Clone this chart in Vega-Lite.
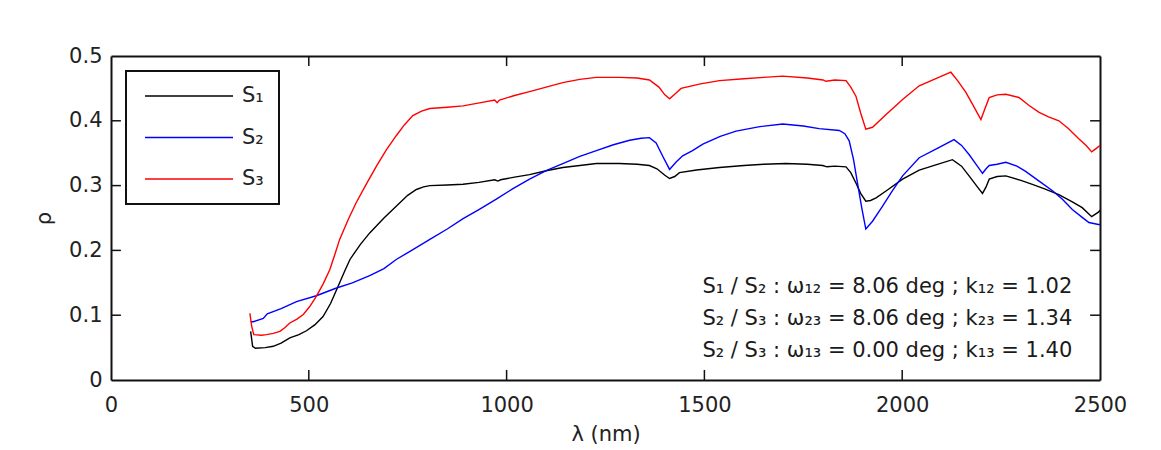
{
  "$schema": "https://vega.github.io/schema/vega-lite/v6.json",
  "width": 989,
  "height": 324,
  "autosize": {"type": "none"},
  "padding": {"left": 111, "top": 56, "right": 61, "bottom": 70},
  "background": "white",
  "config": {
    "font": "DejaVu Sans",
    "view": {"stroke": null},
    "axis": {
      "labelFont": "DejaVu Sans", "labelFontSize": 21, "labelColor": "#222",
      "labelFlush": false, "labelOverlap": false,
      "titleFont": "DejaVu Sans", "titleFontSize": 21, "titleFontWeight": "normal", "titleColor": "#222",
      "domainColor": "#111", "domainWidth": 2,
      "ticks": false,
      "grid": false
    },
    "legend": {
      "labelFont": "DejaVu Sans", "labelFontSize": 21, "labelColor": "#222",
      "symbolType": "stroke", "symbolSize": 7744, "symbolStrokeWidth": 1.5,
      "clipHeight": 20, "rowPadding": 20.5, "labelOffset": 8, "symbolOffset": 3,
      "padding": 15, "strokeColor": "#111", "strokeWidth": 2, "fillColor": "white"
    }
  },
  "datasets": {
    "spectra": [
      {"lambda": 353, "rho": 0.075, "series": "S₁"}, {"lambda": 358, "rho": 0.052, "series": "S₁"}, {"lambda": 365, "rho": 0.049, "series": "S₁"}, {"lambda": 390, "rho": 0.050, "series": "S₁"}, {"lambda": 410, "rho": 0.052, "series": "S₁"}, {"lambda": 430, "rho": 0.057, "series": "S₁"}, {"lambda": 452, "rho": 0.065, "series": "S₁"}, {"lambda": 475, "rho": 0.070, "series": "S₁"}, {"lambda": 494, "rho": 0.076, "series": "S₁"}, {"lambda": 515, "rho": 0.085, "series": "S₁"}, {"lambda": 536, "rho": 0.098, "series": "S₁"}, {"lambda": 555, "rho": 0.118, "series": "S₁"}, {"lambda": 570, "rho": 0.139, "series": "S₁"}, {"lambda": 590, "rho": 0.167, "series": "S₁"}, {"lambda": 604, "rho": 0.186, "series": "S₁"}, {"lambda": 630, "rho": 0.209, "series": "S₁"}, {"lambda": 654, "rho": 0.227, "series": "S₁"}, {"lambda": 690, "rho": 0.250, "series": "S₁"}, {"lambda": 721, "rho": 0.268, "series": "S₁"}, {"lambda": 750, "rho": 0.285, "series": "S₁"}, {"lambda": 772, "rho": 0.294, "series": "S₁"}, {"lambda": 790, "rho": 0.298, "series": "S₁"}, {"lambda": 806, "rho": 0.300, "series": "S₁"}, {"lambda": 850, "rho": 0.301, "series": "S₁"}, {"lambda": 890, "rho": 0.302, "series": "S₁"}, {"lambda": 930, "rho": 0.305, "series": "S₁"}, {"lambda": 970, "rho": 0.309, "series": "S₁"}, {"lambda": 978, "rho": 0.307, "series": "S₁"}, {"lambda": 985, "rho": 0.309, "series": "S₁"}, {"lambda": 1020, "rho": 0.313, "series": "S₁"}, {"lambda": 1058, "rho": 0.317, "series": "S₁"}, {"lambda": 1100, "rho": 0.323, "series": "S₁"}, {"lambda": 1142, "rho": 0.328, "series": "S₁"}, {"lambda": 1185, "rho": 0.331, "series": "S₁"}, {"lambda": 1227, "rho": 0.334, "series": "S₁"}, {"lambda": 1285, "rho": 0.334, "series": "S₁"}, {"lambda": 1330, "rho": 0.333, "series": "S₁"}, {"lambda": 1361, "rho": 0.331, "series": "S₁"}, {"lambda": 1380, "rho": 0.326, "series": "S₁"}, {"lambda": 1400, "rho": 0.316, "series": "S₁"}, {"lambda": 1412, "rho": 0.311, "series": "S₁"}, {"lambda": 1425, "rho": 0.314, "series": "S₁"}, {"lambda": 1437, "rho": 0.320, "series": "S₁"}, {"lambda": 1480, "rho": 0.324, "series": "S₁"}, {"lambda": 1538, "rho": 0.328, "series": "S₁"}, {"lambda": 1600, "rho": 0.331, "series": "S₁"}, {"lambda": 1650, "rho": 0.333, "series": "S₁"}, {"lambda": 1706, "rho": 0.334, "series": "S₁"}, {"lambda": 1760, "rho": 0.333, "series": "S₁"}, {"lambda": 1799, "rho": 0.331, "series": "S₁"}, {"lambda": 1810, "rho": 0.329, "series": "S₁"}, {"lambda": 1830, "rho": 0.330, "series": "S₁"}, {"lambda": 1858, "rho": 0.329, "series": "S₁"}, {"lambda": 1870, "rho": 0.320, "series": "S₁"}, {"lambda": 1883, "rho": 0.304, "series": "S₁"}, {"lambda": 1895, "rho": 0.288, "series": "S₁"}, {"lambda": 1908, "rho": 0.276, "series": "S₁"}, {"lambda": 1920, "rho": 0.277, "series": "S₁"}, {"lambda": 1934, "rho": 0.281, "series": "S₁"}, {"lambda": 1960, "rho": 0.292, "series": "S₁"}, {"lambda": 2001, "rho": 0.310, "series": "S₁"}, {"lambda": 2043, "rho": 0.324, "series": "S₁"}, {"lambda": 2085, "rho": 0.332, "series": "S₁"}, {"lambda": 2127, "rho": 0.340, "series": "S₁"}, {"lambda": 2150, "rho": 0.330, "series": "S₁"}, {"lambda": 2169, "rho": 0.315, "series": "S₁"}, {"lambda": 2190, "rho": 0.298, "series": "S₁"}, {"lambda": 2203, "rho": 0.288, "series": "S₁"}, {"lambda": 2212, "rho": 0.298, "series": "S₁"}, {"lambda": 2220, "rho": 0.310, "series": "S₁"}, {"lambda": 2240, "rho": 0.314, "series": "S₁"}, {"lambda": 2262, "rho": 0.315, "series": "S₁"}, {"lambda": 2300, "rho": 0.308, "series": "S₁"}, {"lambda": 2329, "rho": 0.302, "series": "S₁"}, {"lambda": 2360, "rho": 0.295, "series": "S₁"}, {"lambda": 2396, "rho": 0.286, "series": "S₁"}, {"lambda": 2430, "rho": 0.275, "series": "S₁"}, {"lambda": 2455, "rho": 0.266, "series": "S₁"}, {"lambda": 2479, "rho": 0.252, "series": "S₁"}, {"lambda": 2496, "rho": 0.259, "series": "S₁"}, {"lambda": 2500, "rho": 0.262, "series": "S₁"},

      {"lambda": 353, "rho": 0.090, "series": "S₂"}, {"lambda": 360, "rho": 0.090, "series": "S₂"}, {"lambda": 385, "rho": 0.095, "series": "S₂"}, {"lambda": 395, "rho": 0.102, "series": "S₂"}, {"lambda": 430, "rho": 0.110, "series": "S₂"}, {"lambda": 469, "rho": 0.121, "series": "S₂"}, {"lambda": 519, "rho": 0.130, "series": "S₂"}, {"lambda": 570, "rho": 0.142, "series": "S₂"}, {"lambda": 610, "rho": 0.150, "series": "S₂"}, {"lambda": 654, "rho": 0.161, "series": "S₂"}, {"lambda": 690, "rho": 0.172, "series": "S₂"}, {"lambda": 721, "rho": 0.186, "series": "S₂"}, {"lambda": 760, "rho": 0.200, "series": "S₂"}, {"lambda": 806, "rho": 0.217, "series": "S₂"}, {"lambda": 850, "rho": 0.233, "series": "S₂"}, {"lambda": 890, "rho": 0.249, "series": "S₂"}, {"lambda": 930, "rho": 0.263, "series": "S₂"}, {"lambda": 974, "rho": 0.279, "series": "S₂"}, {"lambda": 1015, "rho": 0.295, "series": "S₂"}, {"lambda": 1058, "rho": 0.310, "series": "S₂"}, {"lambda": 1100, "rho": 0.323, "series": "S₂"}, {"lambda": 1142, "rho": 0.334, "series": "S₂"}, {"lambda": 1185, "rho": 0.345, "series": "S₂"}, {"lambda": 1227, "rho": 0.354, "series": "S₂"}, {"lambda": 1270, "rho": 0.363, "series": "S₂"}, {"lambda": 1311, "rho": 0.370, "series": "S₂"}, {"lambda": 1340, "rho": 0.373, "series": "S₂"}, {"lambda": 1361, "rho": 0.374, "series": "S₂"}, {"lambda": 1378, "rho": 0.366, "series": "S₂"}, {"lambda": 1395, "rho": 0.345, "series": "S₂"}, {"lambda": 1412, "rho": 0.325, "series": "S₂"}, {"lambda": 1428, "rho": 0.336, "series": "S₂"}, {"lambda": 1445, "rho": 0.346, "series": "S₂"}, {"lambda": 1470, "rho": 0.354, "series": "S₂"}, {"lambda": 1496, "rho": 0.364, "series": "S₂"}, {"lambda": 1540, "rho": 0.376, "series": "S₂"}, {"lambda": 1580, "rho": 0.384, "series": "S₂"}, {"lambda": 1640, "rho": 0.391, "series": "S₂"}, {"lambda": 1698, "rho": 0.395, "series": "S₂"}, {"lambda": 1750, "rho": 0.392, "series": "S₂"}, {"lambda": 1790, "rho": 0.388, "series": "S₂"}, {"lambda": 1841, "rho": 0.385, "series": "S₂"}, {"lambda": 1855, "rho": 0.380, "series": "S₂"}, {"lambda": 1866, "rho": 0.369, "series": "S₂"}, {"lambda": 1877, "rho": 0.340, "series": "S₂"}, {"lambda": 1887, "rho": 0.304, "series": "S₂"}, {"lambda": 1898, "rho": 0.265, "series": "S₂"}, {"lambda": 1908, "rho": 0.233, "series": "S₂"}, {"lambda": 1925, "rho": 0.245, "series": "S₂"}, {"lambda": 1950, "rho": 0.268, "series": "S₂"}, {"lambda": 1975, "rho": 0.292, "series": "S₂"}, {"lambda": 2001, "rho": 0.315, "series": "S₂"}, {"lambda": 2043, "rho": 0.343, "series": "S₂"}, {"lambda": 2090, "rho": 0.358, "series": "S₂"}, {"lambda": 2131, "rho": 0.371, "series": "S₂"}, {"lambda": 2150, "rho": 0.362, "series": "S₂"}, {"lambda": 2169, "rho": 0.348, "series": "S₂"}, {"lambda": 2190, "rho": 0.330, "series": "S₂"}, {"lambda": 2203, "rho": 0.319, "series": "S₂"}, {"lambda": 2212, "rho": 0.326, "series": "S₂"}, {"lambda": 2220, "rho": 0.331, "series": "S₂"}, {"lambda": 2240, "rho": 0.333, "series": "S₂"}, {"lambda": 2262, "rho": 0.336, "series": "S₂"}, {"lambda": 2290, "rho": 0.330, "series": "S₂"}, {"lambda": 2312, "rho": 0.322, "series": "S₂"}, {"lambda": 2346, "rho": 0.307, "series": "S₂"}, {"lambda": 2380, "rho": 0.292, "series": "S₂"}, {"lambda": 2405, "rho": 0.279, "series": "S₂"}, {"lambda": 2430, "rho": 0.263, "series": "S₂"}, {"lambda": 2455, "rho": 0.251, "series": "S₂"}, {"lambda": 2472, "rho": 0.243, "series": "S₂"}, {"lambda": 2496, "rho": 0.240, "series": "S₂"}, {"lambda": 2500, "rho": 0.240, "series": "S₂"},

      {"lambda": 351, "rho": 0.103, "series": "S₃"}, {"lambda": 356, "rho": 0.082, "series": "S₃"}, {"lambda": 361, "rho": 0.070, "series": "S₃"}, {"lambda": 380, "rho": 0.069, "series": "S₃"}, {"lambda": 393, "rho": 0.070, "series": "S₃"}, {"lambda": 410, "rho": 0.072, "series": "S₃"}, {"lambda": 427, "rho": 0.075, "series": "S₃"}, {"lambda": 440, "rho": 0.081, "series": "S₃"}, {"lambda": 452, "rho": 0.088, "series": "S₃"}, {"lambda": 470, "rho": 0.094, "series": "S₃"}, {"lambda": 486, "rho": 0.101, "series": "S₃"}, {"lambda": 502, "rho": 0.113, "series": "S₃"}, {"lambda": 519, "rho": 0.129, "series": "S₃"}, {"lambda": 536, "rho": 0.148, "series": "S₃"}, {"lambda": 553, "rho": 0.170, "series": "S₃"}, {"lambda": 565, "rho": 0.192, "series": "S₃"}, {"lambda": 578, "rho": 0.217, "series": "S₃"}, {"lambda": 600, "rho": 0.248, "series": "S₃"}, {"lambda": 620, "rho": 0.274, "series": "S₃"}, {"lambda": 645, "rho": 0.302, "series": "S₃"}, {"lambda": 671, "rho": 0.330, "series": "S₃"}, {"lambda": 696, "rho": 0.355, "series": "S₃"}, {"lambda": 721, "rho": 0.377, "series": "S₃"}, {"lambda": 742, "rho": 0.394, "series": "S₃"}, {"lambda": 763, "rho": 0.408, "series": "S₃"}, {"lambda": 785, "rho": 0.415, "series": "S₃"}, {"lambda": 806, "rho": 0.419, "series": "S₃"}, {"lambda": 850, "rho": 0.421, "series": "S₃"}, {"lambda": 890, "rho": 0.423, "series": "S₃"}, {"lambda": 935, "rho": 0.428, "series": "S₃"}, {"lambda": 970, "rho": 0.432, "series": "S₃"}, {"lambda": 976, "rho": 0.428, "series": "S₃"}, {"lambda": 982, "rho": 0.432, "series": "S₃"}, {"lambda": 1020, "rho": 0.439, "series": "S₃"}, {"lambda": 1058, "rho": 0.445, "series": "S₃"}, {"lambda": 1100, "rho": 0.452, "series": "S₃"}, {"lambda": 1142, "rho": 0.459, "series": "S₃"}, {"lambda": 1185, "rho": 0.464, "series": "S₃"}, {"lambda": 1227, "rho": 0.467, "series": "S₃"}, {"lambda": 1285, "rho": 0.467, "series": "S₃"}, {"lambda": 1330, "rho": 0.466, "series": "S₃"}, {"lambda": 1361, "rho": 0.463, "series": "S₃"}, {"lambda": 1385, "rho": 0.452, "series": "S₃"}, {"lambda": 1400, "rho": 0.440, "series": "S₃"}, {"lambda": 1412, "rho": 0.434, "series": "S₃"}, {"lambda": 1425, "rho": 0.441, "series": "S₃"}, {"lambda": 1441, "rho": 0.450, "series": "S₃"}, {"lambda": 1490, "rho": 0.457, "series": "S₃"}, {"lambda": 1538, "rho": 0.462, "series": "S₃"}, {"lambda": 1600, "rho": 0.465, "series": "S₃"}, {"lambda": 1650, "rho": 0.467, "series": "S₃"}, {"lambda": 1698, "rho": 0.469, "series": "S₃"}, {"lambda": 1760, "rho": 0.466, "series": "S₃"}, {"lambda": 1800, "rho": 0.463, "series": "S₃"}, {"lambda": 1807, "rho": 0.461, "series": "S₃"}, {"lambda": 1830, "rho": 0.463, "series": "S₃"}, {"lambda": 1858, "rho": 0.462, "series": "S₃"}, {"lambda": 1870, "rho": 0.452, "series": "S₃"}, {"lambda": 1883, "rho": 0.438, "series": "S₃"}, {"lambda": 1895, "rho": 0.412, "series": "S₃"}, {"lambda": 1908, "rho": 0.387, "series": "S₃"}, {"lambda": 1925, "rho": 0.390, "series": "S₃"}, {"lambda": 1960, "rho": 0.410, "series": "S₃"}, {"lambda": 2001, "rho": 0.433, "series": "S₃"}, {"lambda": 2043, "rho": 0.454, "series": "S₃"}, {"lambda": 2085, "rho": 0.465, "series": "S₃"}, {"lambda": 2123, "rho": 0.475, "series": "S₃"}, {"lambda": 2140, "rho": 0.462, "series": "S₃"}, {"lambda": 2161, "rho": 0.444, "series": "S₃"}, {"lambda": 2180, "rho": 0.423, "series": "S₃"}, {"lambda": 2199, "rho": 0.402, "series": "S₃"}, {"lambda": 2210, "rho": 0.420, "series": "S₃"}, {"lambda": 2220, "rho": 0.436, "series": "S₃"}, {"lambda": 2240, "rho": 0.440, "series": "S₃"}, {"lambda": 2262, "rho": 0.441, "series": "S₃"}, {"lambda": 2295, "rho": 0.436, "series": "S₃"}, {"lambda": 2320, "rho": 0.424, "series": "S₃"}, {"lambda": 2346, "rho": 0.413, "series": "S₃"}, {"lambda": 2370, "rho": 0.406, "series": "S₃"}, {"lambda": 2396, "rho": 0.400, "series": "S₃"}, {"lambda": 2420, "rho": 0.388, "series": "S₃"}, {"lambda": 2447, "rho": 0.372, "series": "S₃"}, {"lambda": 2465, "rho": 0.362, "series": "S₃"}, {"lambda": 2479, "rho": 0.352, "series": "S₃"}, {"lambda": 2490, "rho": 0.357, "series": "S₃"}, {"lambda": 2500, "rho": 0.362, "series": "S₃"}
    ],
    "xticks": [{"v": 500}, {"v": 1000}, {"v": 1500}, {"v": 2000}],
    "yticks": [{"v": 0.1}, {"v": 0.2}, {"v": 0.3}, {"v": 0.4}]
  },
  "layer": [
    {
      "data": {"name": "spectra"},
      "mark": {"type": "line", "strokeWidth": 1.4},
      "encoding": {
        "x": {
          "field": "lambda", "type": "quantitative",
          "scale": {"domain": [0, 2500], "nice": false},
          "axis": {"orient": "bottom", "values": [0, 500, 1000, 1500, 2000, 2500], "format": "d", "title": "λ (nm)", "labelPadding": 14, "titlePadding": 8}
        },
        "y": {
          "field": "rho", "type": "quantitative",
          "scale": {"domain": [0, 0.5], "nice": false, "zero": false},
          "axis": {"orient": "left", "values": [0, 0.1, 0.2, 0.3, 0.4, 0.5], "format": "~g", "title": "ρ", "labelPadding": 9, "titlePadding": 14}
        },
        "color": {
          "field": "series", "type": "nominal",
          "scale": {"domain": ["S₁", "S₂", "S₃"], "range": ["#000000", "#0000ff", "#ff0000"]},
          "legend": {"orient": "none", "legendX": 15, "legendY": 15, "title": null}
        }
      }
    },
    {
      "data": {"name": "spectra"},
      "mark": {"type": "line", "strokeOpacity": 0},
      "encoding": {
        "x": {
          "field": "lambda", "type": "quantitative",
          "axis": {"orient": "top", "labels": false, "title": null}
        },
        "y": {
          "field": "rho", "type": "quantitative",
          "axis": {"orient": "right", "labels": false, "title": null}
        }
      }
    },
    {
      "data": {"name": "xticks"},
      "mark": {"type": "rule", "color": "#111", "strokeWidth": 1.5},
      "encoding": {
        "x": {"field": "v", "type": "quantitative", "axis": null},
        "y": {"datum": 0, "type": "quantitative", "axis": null},
        "y2": {"datum": 0.0155}
      }
    },
    {
      "data": {"name": "xticks"},
      "mark": {"type": "rule", "color": "#111", "strokeWidth": 1.5},
      "encoding": {
        "x": {"field": "v", "type": "quantitative", "axis": null},
        "y": {"datum": 0.5, "type": "quantitative", "axis": null},
        "y2": {"datum": 0.4845}
      }
    },
    {
      "data": {"name": "yticks"},
      "mark": {"type": "rule", "color": "#111", "strokeWidth": 1.5},
      "encoding": {
        "y": {"field": "v", "type": "quantitative", "axis": null},
        "x": {"datum": 0, "type": "quantitative", "axis": null},
        "x2": {"datum": 25}
      }
    },
    {
      "data": {"name": "yticks"},
      "mark": {"type": "rule", "color": "#111", "strokeWidth": 1.5},
      "encoding": {
        "y": {"field": "v", "type": "quantitative", "axis": null},
        "x": {"datum": 2500, "type": "quantitative", "axis": null},
        "x2": {"datum": 2475}
      }
    },
    {
      "data": {"values": [{}]},
      "mark": {
        "type": "text",
        "text": ["S₁ / S₂ : ω₁₂ = 8.06 deg ; k₁₂ = 1.02", "S₂ / S₃ : ω₂₃ = 8.06 deg ; k₂₃ = 1.34", "S₂ / S₃ : ω₁₃ = 0.00 deg ; k₁₃ = 1.40"],
        "align": "right", "baseline": "alphabetic", "lineHeight": 32,
        "font": "DejaVu Sans", "fontSize": 21, "color": "#1a1a1a"
      },
      "encoding": {
        "x": {"datum": 2430, "type": "quantitative", "axis": null},
        "y": {"datum": 0.1347, "type": "quantitative", "axis": null}
      }
    }
  ],
  "resolve": {"axis": {"x": "independent", "y": "independent"}}
}
